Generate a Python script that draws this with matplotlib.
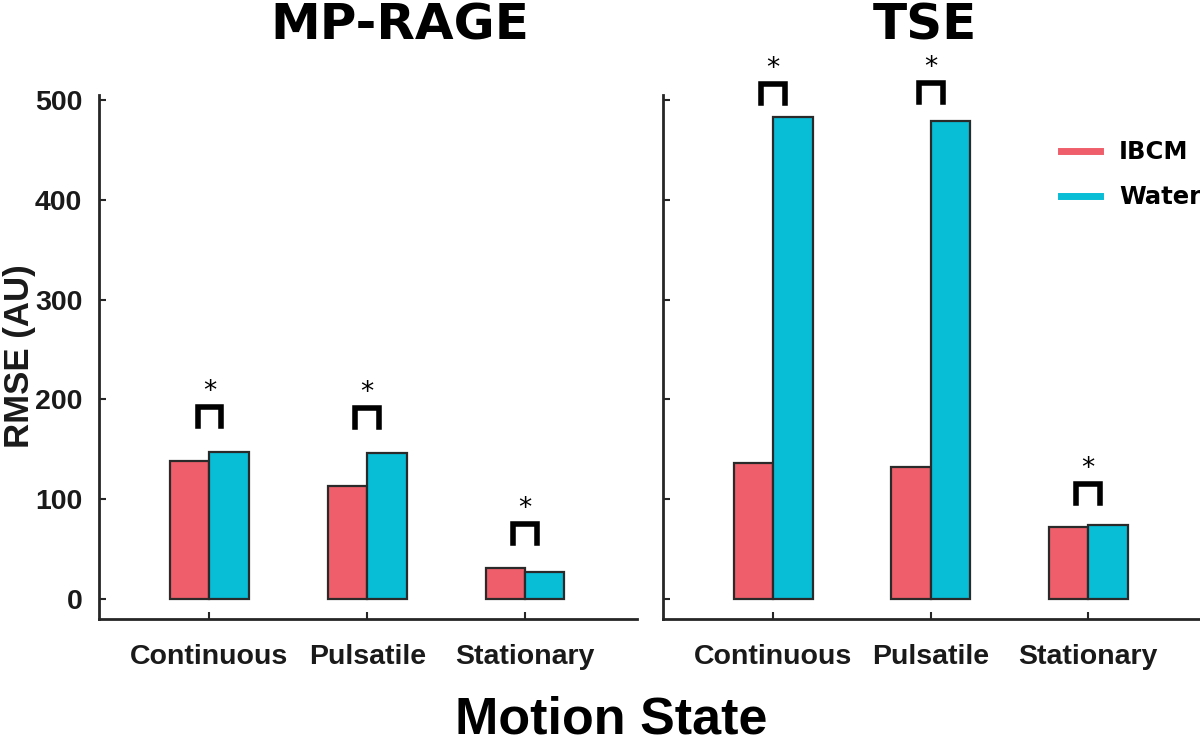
import matplotlib
matplotlib.use("Agg")
import matplotlib.pyplot as plt
from matplotlib.lines import Line2D
import numpy as np

# data
states = ["Continuous", "Pulsatile", "Stationary"]
panels = ["MP-RAGE", "TSE"]
ibcm_mprage = [138, 113, 31]
water_mprage = [147, 146, 27]
ibcm_tse = [136, 132, 72]
water_tse = [483, 479, 74]

red = "#EF5F6B"
cyan = "#08BDD6"
edge = "#2a2a2a"

fig = plt.figure(figsize=(12, 7.47), dpi=100)
ax1 = fig.add_axes([0.0825, 0.1714, 0.4483, 0.7014])
ax2 = fig.add_axes([0.5525, 0.1714, 0.4475, 0.7014])

# star bracket offsets above the taller bar (annotation placement)
pads = {"MP-RAGE": [45, 45, 44], "TSE": [33, 38, 41]}

x = np.arange(1, 4)
w = 0.25
for ax, name, ib, wa in [(ax1, "MP-RAGE", ibcm_mprage, water_mprage),
                         (ax2, "TSE", ibcm_tse, water_tse)]:
    ax.bar(x - w / 2, ib, w, color=red, edgecolor=edge, linewidth=1.6, label="IBCM")
    ax.bar(x + w / 2, wa, w, color=cyan, edgecolor=edge, linewidth=1.6, label="Water")
    ax.set_xlim(0.3, 3.71)
    ax.set_ylim(-20, 505)
    ax.set_yticks([0, 100, 200, 300, 400, 500])
    ax.set_xticks(x)
    ax.set_xticklabels(states)
    for s in ["top", "right"]:
        ax.spines[s].set_visible(False)
    for s in ["left", "bottom"]:
        ax.spines[s].set_linewidth(2)
        ax.spines[s].set_color("#262626")
    ax.tick_params(direction="in", length=5, width=1.5, color="#262626",
                   labelsize=20.5, pad=18)
    for lab in ax.get_xticklabels() + ax.get_yticklabels():
        lab.set_fontfamily("Liberation Sans")
        lab.set_fontweight("bold")
        lab.set_color("#1a1a1a")
    # significance brackets
    for i in range(3):
        top = max(ib[i], wa[i]) + pads[name][i]
        bw = 0.075
        ax.plot([x[i] - bw, x[i] - bw, x[i] + bw, x[i] + bw],
                [top - 19, top, top, top - 19], color="black", lw=4,
                solid_joinstyle="miter", clip_on=False)
        ax.text(x[i], top + 2, "*", ha="center", va="bottom", fontsize=19,
                fontfamily="DejaVu Sans", clip_on=False)

ax1.tick_params(axis="y", pad=12)
ax2.tick_params(axis="y", labelleft=False)

fig.text(0.016, 0.523, "RMSE (AU)", rotation=90, ha="center", va="center",
         fontsize=25, fontweight="bold", fontfamily="Liberation Sans",
         color="#1a1a1a")

fig.text(0.333, 0.966, "MP-RAGE", ha="center", va="center", fontsize=36,
         fontweight="bold", fontfamily="DejaVu Sans")
fig.text(0.771, 0.966, "TSE", ha="center", va="center", fontsize=36,
         fontweight="bold", fontfamily="DejaVu Sans")
fig.text(0.509, 0.036, "Motion State", ha="center", va="center", fontsize=37.5,
         fontweight="bold", fontfamily="Liberation Sans")

# legend drawn as lines, like the original
handles = [Line2D([0], [0], color=red, lw=5), Line2D([0], [0], color=cyan, lw=5)]
ax2.legend(handles, ["IBCM", "Water"], loc="upper left",
           bbox_to_anchor=(0.7, 0.955), frameon=False, handlelength=1.6,
           handletextpad=0.8, labelspacing=0.85,
           prop={"family": "DejaVu Sans", "weight": "bold", "size": 17.5})

fig.savefig("out.png", dpi=100)
